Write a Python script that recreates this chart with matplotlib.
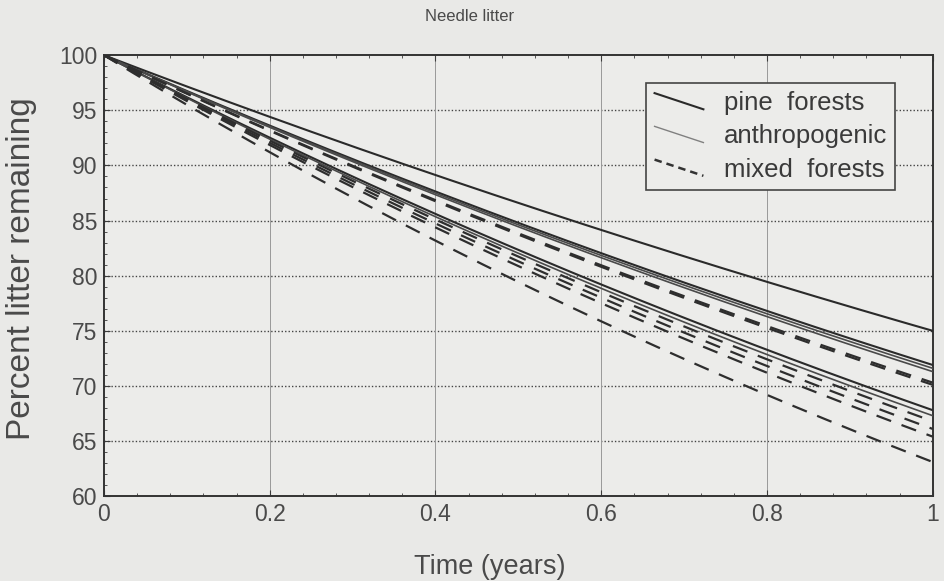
import numpy as np
import matplotlib
matplotlib.use("Agg")
import matplotlib.pyplot as plt
from matplotlib.ticker import MultipleLocator
from matplotlib.lines import Line2D
from matplotlib.legend_handler import HandlerLine2D

# Percent of needle litter remaining after one year, per site
pine_end = [75.0, 71.9, 67.8]
anthro_end = [71.6, 71.3, 67.3]
mixed_end = [70.3, 70.1, 66.8, 66.1, 65.4, 63.1]

x_ticks = [0, 0.2, 0.4, 0.6, 0.8, 1]
x_tick_labels = ["0", "0.2", "0.4", "0.6", "0.8", "1"]
y_ticks = [60, 65, 70, 75, 80, 85, 90, 95, 100]

plt.rcParams["font.family"] = ["Liberation Sans", "DejaVu Sans"]
ink = "#3c3c3c"
paper = "#e9e9e7"

fig = plt.figure(figsize=(9.45, 5.81), dpi=100, facecolor=paper)
ax = fig.add_axes([0.110, 0.146, 0.877, 0.759])
ax.set_facecolor("#ececea")

t = np.linspace(0, 1, 200)


def decay(end):
    # single-exponential mass loss through the one-year end value
    return 100 * np.exp(np.log(end / 100.0) * t)


for e in pine_end:
    ax.plot(t, decay(e), color="#2a2a2a", lw=1.5, zorder=3)
for e in anthro_end:
    ax.plot(t, decay(e), color="#4a4a4a", lw=1.2, zorder=3)
for e in mixed_end:
    ax.plot(t, decay(e), color="#2e2e2e", lw=1.6, ls=(0, (7, 5)), zorder=3)

ax.set_xlim(0, 1)
ax.set_ylim(60, 100)
ax.set_xticks(x_ticks)
ax.set_xticklabels(x_tick_labels)
ax.set_yticks(y_ticks)
ax.xaxis.set_minor_locator(MultipleLocator(0.04))
ax.yaxis.set_minor_locator(MultipleLocator(1))

for yv in y_ticks[1:-1]:
    ax.axhline(yv, color="#444444", lw=1.0, ls=(0, (1, 1.5)), zorder=1)
for xv in x_ticks[1:-1]:
    ax.axvline(xv, color="#999999", lw=0.7, zorder=1)

ax.tick_params(which="both", direction="in", top=True, right=False,
               colors=ink, labelcolor="#4a4a4a", labelsize=16.5, pad=5)
ax.tick_params(which="major", length=4, width=0.8)
ax.tick_params(which="minor", length=2, width=0.6)
for s in ax.spines.values():
    s.set_color("#333333")
    s.set_linewidth(1.4)

ax.set_xlabel("Time (years)", fontsize=19.5, color="#4a4a4a")
ax.xaxis.set_label_coords(0.465, -0.132)
ax.set_ylabel("Percent litter remaining", fontsize=24, color="#4a4a4a")
ax.yaxis.set_label_coords(-0.081, 0.515)
fig.text(0.497, 0.972, "Needle litter", ha="center", va="center",
         fontsize=12, color="#4a4a4a")


class SlantedLine(HandlerLine2D):
    # legend sample drawn as a short descending stroke
    def create_artists(self, legend, orig_handle, xdescent, ydescent,
                       width, height, fontsize, trans):
        line = Line2D([-xdescent, -xdescent + width],
                      [height * 0.95 - ydescent, height * 0.05 - ydescent])
        self.update_prop(line, orig_handle, legend)
        line.set_transform(trans)
        return [line]


handles = [
    Line2D([0], [0], color="#2a2a2a", lw=1.5),
    Line2D([0], [0], color="#808080", lw=1.0),
    Line2D([0], [0], color="#333333", lw=1.8, ls=(0, (3, 2))),
]
leg = ax.legend(handles, ["pine  forests", "anthropogenic", "mixed  forests"],
                loc="upper right", bbox_to_anchor=(0.955, 0.937),
                fontsize=18.5, frameon=True, fancybox=False, framealpha=1,
                handlelength=1.9, handletextpad=0.8, borderpad=0.32,
                labelspacing=0.36, borderaxespad=0,
                handler_map={Line2D: SlantedLine()})
leg.get_frame().set_edgecolor("#444444")
leg.get_frame().set_linewidth(1.2)
leg.get_frame().set_facecolor("#ececea")
for txt in leg.get_texts():
    txt.set_color("#3a3a3a")

fig.savefig("out.png", dpi=100, facecolor=paper)
